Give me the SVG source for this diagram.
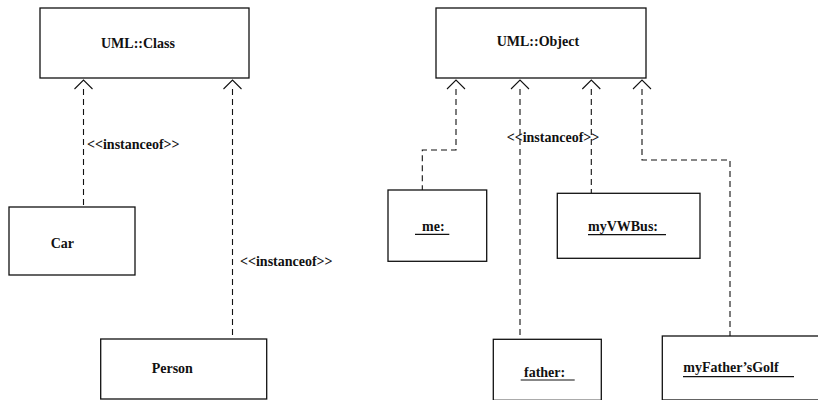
<svg xmlns="http://www.w3.org/2000/svg" width="818" height="400" viewBox="0 0 818 400">
<style>
.box{fill:#fff;stroke:#111;stroke-width:1.3}
.t{font-family:"Liberation Serif","Times New Roman",serif;font-weight:bold;font-size:14px;fill:#111}
.u{stroke:#111;stroke-width:1.2}
.c{fill:none;stroke:#111;stroke-width:1.1;stroke-dasharray:6,4;marker-start:url(#open)}
.c2{fill:none;stroke:#111;stroke-width:1.1;stroke-dasharray:6,4}
</style>
<defs>
<marker id="open" markerUnits="userSpaceOnUse" viewBox="-11 -2 22 14" refX="0" refY="9" markerWidth="22" markerHeight="14" orient="0" overflow="visible">
<path d="M-9,9 L0,0 L9,9" fill="none" stroke="#111" stroke-width="1.1"/>
</marker>
</defs>
<rect width="818" height="400" fill="#fff"/>
<g id="connectors">
<path class="c" d="M83.5,89 V207"/>
<path class="c" d="M232.5,89 V339"/>
<path class="c" d="M456,89 V150 H422.3 V190"/>
<path class="c" d="M520,89 V336"/>
<path class="c" d="M591.3,89 V193"/>
<path class="c" d="M642,89 V160 H730 V336"/>
<text class="t" x="87" y="149">&lt;&lt;instanceof&gt;&gt;</text>
<text class="t" x="240" y="266">&lt;&lt;instanceof&gt;&gt;</text>
<text class="t" x="506.7" y="141.5">&lt;&lt;instanceof&gt;&gt;</text>
</g>
<g id="uml-class">
<rect class="box" x="40" y="8" width="209" height="70"/>
<text class="t" x="101" y="48">UML::Class</text>
</g>
<g id="uml-object">
<rect class="box" x="436" y="8" width="210" height="70"/>
<text class="t" x="496.7" y="46">UML::Object</text>
</g>
<g id="car">
<rect class="box" x="9" y="207" width="126" height="68"/>
<text class="t" x="50.7" y="248">Car</text>
</g>
<g id="person">
<rect class="box" x="100.7" y="339" width="166" height="60"/>
<text class="t" x="151.7" y="372.7">Person</text>
</g>
<g id="me">
<rect class="box" x="388" y="190" width="98.7" height="71.3"/>
<text class="t" x="422" y="230.7">me:</text>
<line class="u" x1="415" y1="234.3" x2="449.3" y2="234.3"/>
</g>
<g id="myvwbus">
<rect class="box" x="557.3" y="193.3" width="142.7" height="65"/>
<text class="t" x="588" y="230.7">myVWBus:</text>
<line class="u" x1="588" y1="234.7" x2="666" y2="234.7"/>
</g>
<g id="father">
<rect class="box" x="493.3" y="339.3" width="108" height="61"/>
<text class="t" x="524" y="376.7">father:</text>
<line class="u" x1="520.7" y1="380" x2="574.7" y2="380"/>
</g>
<g id="myfathersgolf">
<rect class="box" x="662.3" y="336" width="160" height="64"/>
<text class="t" x="683.3" y="372.3">myFather’sGolf</text>
<line class="u" x1="683" y1="376.7" x2="794" y2="376.7"/>
</g>
</svg>
